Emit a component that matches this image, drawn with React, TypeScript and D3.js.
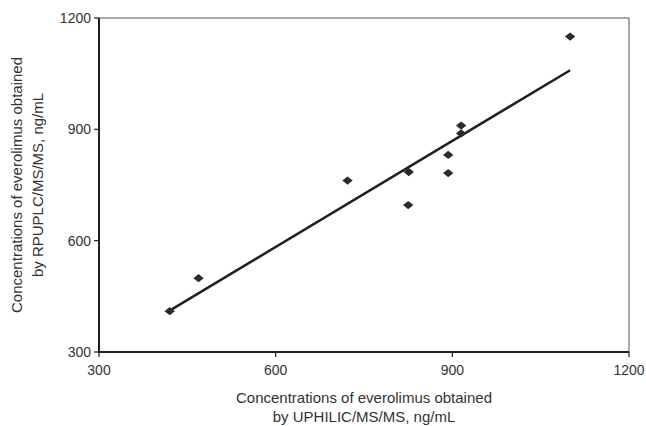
import React from "react";
import * as d3 from "d3";

// UPHILIC/MS/MS (x) vs RPUPLC/MS/MS (y), ng/mL
const uphilic = [420, 469, 722, 826, 825, 893, 893, 915, 915, 1100];
const rpuplc = [410, 499, 762, 785, 696, 831, 782, 910, 889, 1150];
const ticks = [300, 600, 900, 1200];

// wide rhombus marker
const wideDiamond = {
  draw(ctx: any, size: number) {
    const w = Math.sqrt(size) * 0.62;
    const h = w * 0.8;
    ctx.moveTo(-w, 0);
    ctx.lineTo(0, -h);
    ctx.lineTo(w, 0);
    ctx.lineTo(0, h);
    ctx.closePath();
  },
};

export default function App() {
  const width = 646;
  const height = 426;
  const left = 99;
  const right = 629;
  const top = 18;
  const bottom = 352;

  const x = d3.scaleLinear().domain([300, 1200]).range([left, right]);
  const y = d3.scaleLinear().domain([300, 1200]).range([bottom, top]);

  const points = uphilic.map((v, i) => ({ x: v, y: rpuplc[i] }));

  // least-squares fit line
  const mx = d3.mean(uphilic) as number;
  const my = d3.mean(rpuplc) as number;
  const sxy = d3.sum(points, (p) => (p.x - mx) * (p.y - my));
  const sxx = d3.sum(uphilic, (v) => (v - mx) * (v - mx));
  const slope = sxy / sxx;
  const icpt = my - slope * mx;
  const [x0, x1] = d3.extent(uphilic) as [number, number];
  const fit = [x0, x1].map((v) => [x(v), y(icpt + slope * v)] as [number, number]);
  const fitPath = d3.line()(fit);

  const marker = d3.symbol().type(wideDiamond as any).size(70)();

  const font = "'Liberation Sans', Arial, sans-serif";
  const textColor = "#333";

  return (
    <svg
      width={width}
      height={height}
      style={{ position: "absolute", left: 0, top: 0, background: "#fff" }}
      fontFamily={font}
    >
      {/* frame */}
      <line x1={left} x2={right} y1={top} y2={top} stroke="#555" strokeWidth={1} />
      <line x1={right} x2={right} y1={top} y2={bottom} stroke="#555" strokeWidth={1} />
      <line x1={left} x2={left} y1={top} y2={bottom + 1} stroke="#231f20" strokeWidth={2} />
      <line x1={left - 1} x2={right} y1={bottom} y2={bottom} stroke="#231f20" strokeWidth={2} />

      {ticks.map((t) => (
        <g key={"y" + t}>
          <line x1={left - 5} x2={left} y1={y(t)} y2={y(t)} stroke="#231f20" strokeWidth={1.2} />
          <text x={left - 8} y={y(t)} dy="0.35em" textAnchor="end" fontSize={14} fill={textColor}>
            {t}
          </text>
        </g>
      ))}
      {ticks.map((t) => (
        <g key={"x" + t}>
          <line x1={x(t)} x2={x(t)} y1={bottom} y2={bottom + 5} stroke="#231f20" strokeWidth={1.2} />
          <text x={x(t)} y={bottom + 23} textAnchor="middle" fontSize={14} fill={textColor}>
            {t}
          </text>
        </g>
      ))}

      <path d={fitPath || ""} fill="none" stroke="#231f20" strokeWidth={2.5} />

      {points.map((p, i) => (
        <path key={i} d={marker || ""} transform={`translate(${x(p.x)},${y(p.y)})`} fill="#2b2b2b" />
      ))}

      <text x={(left + right) / 2} textAnchor="middle" fontSize={15} fill={textColor}>
        <tspan x={(left + right) / 2} y={403}>Concentrations of everolimus obtained</tspan>
        <tspan x={(left + right) / 2} y={422}>by UPHILIC/MS/MS, ng/mL</tspan>
      </text>

      <g transform={`translate(0,${(top + bottom) / 2}) rotate(-90)`}>
        <text textAnchor="middle" fontSize={15} fill={textColor}>
          <tspan x={0} y={22}>Concentrations of everolimus obtained</tspan>
          <tspan x={0} y={43}>by RPUPLC/MS/MS, ng/mL</tspan>
        </text>
      </g>
    </svg>
  );
}
